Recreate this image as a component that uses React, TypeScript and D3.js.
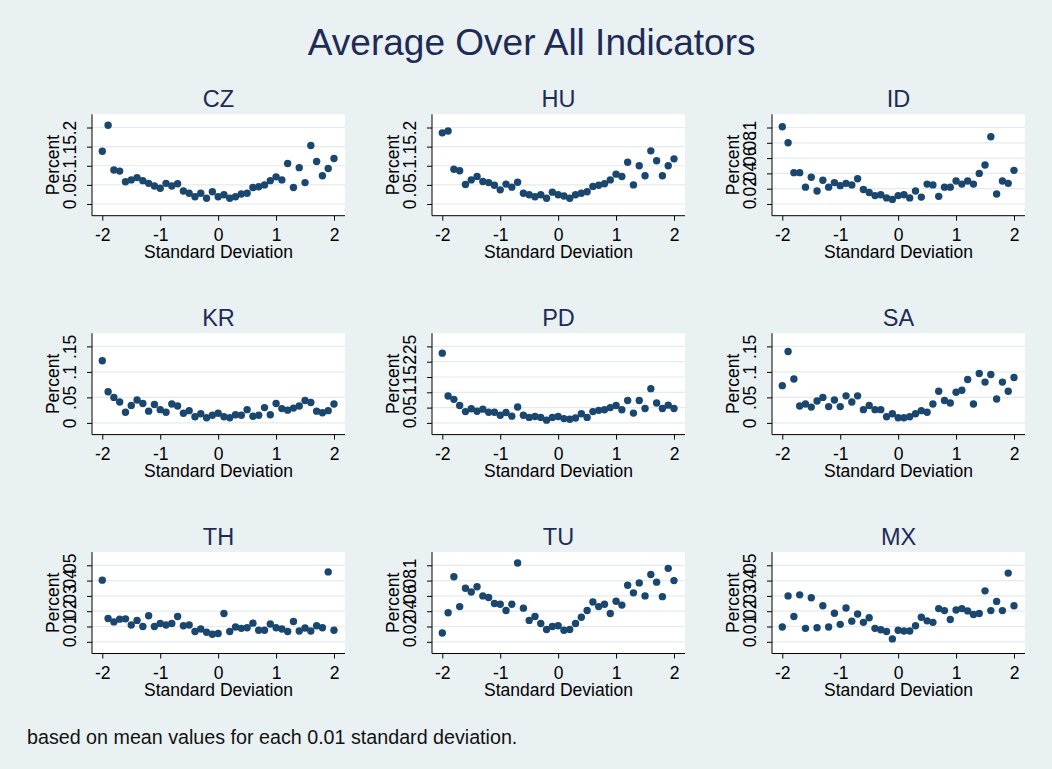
import React, { useEffect, useRef } from 'react';
import * as d3 from 'd3';

// x positions: one mean value for each 0.1 standard deviation
const sdSteps = [
  -2, -1.9, -1.8, -1.7, -1.6, -1.5, -1.4, -1.3, -1.2, -1.1, -1, -0.9, -0.8, -0.7,
  -0.6, -0.5, -0.4, -0.3, -0.2, -0.1, 0, 0.1, 0.2, 0.3, 0.4, 0.5, 0.6, 0.7, 0.8,
  0.9, 1, 1.1, 1.2, 1.3, 1.4, 1.5, 1.6, 1.7, 1.8, 1.9, 2,
];
const xTicks = [-2, -1, 0, 1, 2];

const countries = ['CZ', 'HU', 'ID', 'KR', 'PD', 'SA', 'TH', 'TU', 'MX'];

const cz = [0.138, 0.206, 0.089, 0.086, 0.058, 0.063, 0.069, 0.061, 0.054, 0.047, 0.041, 0.054, 0.047, 0.053, 0.034, 0.028, 0.019, 0.028, 0.015, 0.032, 0.019, 0.024, 0.015, 0.019, 0.026, 0.028, 0.043, 0.045, 0.05, 0.061, 0.071, 0.063, 0.106, 0.043, 0.095, 0.056, 0.153, 0.111, 0.074, 0.093, 0.119];
const hu = [0.186, 0.191, 0.091, 0.087, 0.051, 0.063, 0.072, 0.059, 0.056, 0.049, 0.037, 0.052, 0.044, 0.057, 0.028, 0.024, 0.019, 0.024, 0.015, 0.031, 0.024, 0.021, 0.015, 0.024, 0.028, 0.032, 0.046, 0.049, 0.053, 0.063, 0.078, 0.072, 0.109, 0.05, 0.1, 0.074, 0.139, 0.113, 0.074, 0.1, 0.118];
const id = [0.101, 0.08, 0.041, 0.041, 0.022, 0.035, 0.017, 0.031, 0.022, 0.028, 0.024, 0.027, 0.025, 0.033, 0.019, 0.015, 0.011, 0.012, 0.008, 0.006, 0.011, 0.012, 0.008, 0.017, 0.009, 0.026, 0.025, 0.01, 0.022, 0.022, 0.03, 0.026, 0.03, 0.026, 0.04, 0.051, 0.088, 0.013, 0.03, 0.027, 0.044];
const kr = [0.122, 0.061, 0.05, 0.041, 0.021, 0.034, 0.045, 0.038, 0.023, 0.036, 0.026, 0.021, 0.037, 0.033, 0.019, 0.024, 0.012, 0.018, 0.01, 0.015, 0.019, 0.012, 0.01, 0.016, 0.015, 0.026, 0.013, 0.015, 0.03, 0.016, 0.038, 0.028, 0.025, 0.029, 0.033, 0.044, 0.04, 0.023, 0.02, 0.024, 0.037];
const pd = [0.228, 0.088, 0.077, 0.057, 0.037, 0.046, 0.038, 0.045, 0.035, 0.035, 0.025, 0.034, 0.022, 0.052, 0.025, 0.018, 0.021, 0.018, 0.009, 0.018, 0.021, 0.014, 0.012, 0.016, 0.03, 0.018, 0.037, 0.041, 0.043, 0.05, 0.057, 0.043, 0.073, 0.032, 0.073, 0.047, 0.112, 0.065, 0.047, 0.058, 0.047];
const sa = [0.073, 0.14, 0.086, 0.033, 0.037, 0.031, 0.043, 0.05, 0.032, 0.045, 0.032, 0.053, 0.041, 0.053, 0.026, 0.034, 0.026, 0.026, 0.012, 0.018, 0.01, 0.01, 0.012, 0.018, 0.024, 0.021, 0.037, 0.062, 0.044, 0.039, 0.06, 0.064, 0.085, 0.037, 0.097, 0.08, 0.095, 0.047, 0.08, 0.062, 0.089];
const th = [0.0403, 0.0152, 0.013, 0.0148, 0.015, 0.011, 0.014, 0.01, 0.017, 0.01, 0.012, 0.011, 0.012, 0.0165, 0.0105, 0.011, 0.0067, 0.0084, 0.0062, 0.0049, 0.0054, 0.0185, 0.0067, 0.0097, 0.0088, 0.0092, 0.0122, 0.0075, 0.0075, 0.0116, 0.0092, 0.0084, 0.0067, 0.0133, 0.0071, 0.009, 0.0071, 0.0105, 0.0092, 0.0457, 0.0075];
const tu = [0.0115, 0.038, 0.085, 0.046, 0.07, 0.065, 0.072, 0.06, 0.058, 0.05, 0.049, 0.041, 0.049, 0.103, 0.044, 0.028, 0.033, 0.024, 0.016, 0.02, 0.021, 0.015, 0.016, 0.024, 0.032, 0.041, 0.052, 0.046, 0.049, 0.037, 0.053, 0.048, 0.074, 0.064, 0.077, 0.06, 0.088, 0.078, 0.059, 0.096, 0.08];
const mx = [0.0097, 0.03, 0.0165, 0.0307, 0.0088, 0.0288, 0.0092, 0.0236, 0.0097, 0.0187, 0.0114, 0.0221, 0.0135, 0.0182, 0.0127, 0.0157, 0.0088, 0.0079, 0.0067, 0.0019, 0.0075, 0.0071, 0.0071, 0.0105, 0.016, 0.0137, 0.0127, 0.0217, 0.0204, 0.0146, 0.0208, 0.0217, 0.0202, 0.0178, 0.0185, 0.0333, 0.0204, 0.0264, 0.0204, 0.0449, 0.0236];

const yTicksPct2 = [0, 0.05, 0.1, 0.15, 0.2];
const yTicksPct1 = [0, 0.02, 0.04, 0.06, 0.08, 0.1];
const yTicksPct15 = [0, 0.05, 0.1, 0.15];
const yTicksPct25 = [0, 0.05, 0.1, 0.15, 0.2, 0.25];
const yTicksPct05 = [0, 0.01, 0.02, 0.03, 0.04, 0.05];

const seriesList = [cz, hu, id, kr, pd, sa, th, tu, mx];
const tickList = [yTicksPct2, yTicksPct2, yTicksPct1, yTicksPct15, yTicksPct25, yTicksPct15, yTicksPct05, yTicksPct1, yTicksPct05];

const W = 1052;
const H = 769;
const FONT = '"Liberation Sans", Arial, sans-serif';
const NAVY = '#1a476f';
const TITLE = '#1e2b57';

// stata style labels: .05 instead of 0.05
const fmt = (d) => (d === 0 ? '0' : String(+d.toFixed(3)).replace(/^0\./, '.'));

const App = () => {
  const svgRef = useRef();

  useEffect(() => {
    const svg = d3.select(svgRef.current);
    svg.selectAll('*').remove();

    svg.append('rect').attr('width', W).attr('height', H).attr('fill', '#eaf1f3');

    svg
      .append('text')
      .attr('x', 531.7)
      .attr('y', 54.5)
      .attr('text-anchor', 'middle')
      .attr('font-size', 37)
      .attr('fill', TITLE)
      .text('Average Over All Indicators');

    svg
      .append('text')
      .attr('x', 27)
      .attr('y', 744)
      .attr('font-size', 19.7)
      .attr('fill', '#111')
      .text('based on mean values for each 0.01 standard deviation.');

    // one panel geometry, shifted per row / column
    const box = { left: 92, right: 345, top: 114.3, bottom: 215.7 };
    const x = d3.scaleLinear().domain([-2, 2]).range([102.3, 334]);
    const midX = (box.left + box.right) / 2;

    countries.forEach((name, i) => {
      const col = i % 3;
      const row = Math.floor(i / 3);
      const ticks = tickList[i];
      const values = seriesList[i];
      const y = d3
        .scaleLinear()
        .domain([0, d3.max(ticks)])
        .range([204, 127.5]);

      const g = svg
        .append('g')
        .attr('transform', `translate(${col * 340},${row * 218.9})`);

      g.append('rect')
        .attr('x', box.left)
        .attr('y', box.top)
        .attr('width', box.right - box.left)
        .attr('height', box.bottom - box.top)
        .attr('fill', '#fff');

      // gridlines
      g.selectAll('.grid')
        .data(ticks)
        .enter()
        .append('line')
        .attr('x1', box.left)
        .attr('x2', box.right)
        .attr('y1', (d) => y(d))
        .attr('y2', (d) => y(d))
        .attr('stroke', '#e3ebee')
        .attr('stroke-width', 1.2);

      // y axis
      const yAxis = g
        .append('g')
        .attr('transform', `translate(${box.left},0)`)
        .call(d3.axisLeft(y).tickValues(ticks).tickSize(5).tickSizeOuter(0).tickFormat(fmt));
      yAxis.select('.domain').remove();
      yAxis.selectAll('line').attr('stroke', '#000');
      yAxis
        .selectAll('text')
        .attr('x', 0)
        .attr('y', -16)
        .attr('dy', 0)
        .attr('transform', 'rotate(-90)')
        .attr('text-anchor', 'middle')
        .attr('font-size', 17.5)
        .attr('font-family', FONT)
        .attr('fill', '#000');

      // x axis
      const xAxis = g
        .append('g')
        .attr('transform', `translate(0,${box.bottom})`)
        .call(d3.axisBottom(x).tickValues(xTicks).tickSize(5).tickSizeOuter(0).tickFormat((d) => String(d)));
      xAxis.select('.domain').remove();
      xAxis.selectAll('line').attr('stroke', '#000');
      xAxis
        .selectAll('text')
        .attr('y', 25)
        .attr('dy', 0)
        .attr('font-size', 17.5)
        .attr('font-family', FONT)
        .attr('fill', '#000');

      // axis lines
      g.append('line')
        .attr('x1', box.left)
        .attr('x2', box.left)
        .attr('y1', box.top)
        .attr('y2', box.bottom)
        .attr('stroke', '#000');
      g.append('line')
        .attr('x1', box.left)
        .attr('x2', box.right)
        .attr('y1', box.bottom)
        .attr('y2', box.bottom)
        .attr('stroke', '#000');

      // points
      g.selectAll('.pt')
        .data(values)
        .enter()
        .append('circle')
        .attr('class', 'pt')
        .attr('cx', (d, j) => x(sdSteps[j]))
        .attr('cy', (d) => y(d))
        .attr('r', 3.7)
        .attr('fill', NAVY);

      g.append('text')
        .attr('x', midX)
        .attr('y', 107.3)
        .attr('text-anchor', 'middle')
        .attr('font-size', 23.5)
        .attr('fill', TITLE)
        .text(name);

      g.append('text')
        .attr('x', midX)
        .attr('y', 258.3)
        .attr('text-anchor', 'middle')
        .attr('font-size', 17.5)
        .attr('fill', '#000')
        .text('Standard Deviation');

      g.append('text')
        .attr('transform', `translate(59.3,${(box.top + box.bottom) / 2}) rotate(-90)`)
        .attr('text-anchor', 'middle')
        .attr('font-size', 17.5)
        .attr('fill', '#000')
        .text('Percent');
    });
  }, []);

  return (
    <div style={{ position: 'absolute', left: 0, top: 0 }}>
      <svg
        ref={svgRef}
        width={W}
        height={H}
        style={{ display: 'block', fontFamily: FONT }}
      ></svg>
    </div>
  );
};

export default App;
